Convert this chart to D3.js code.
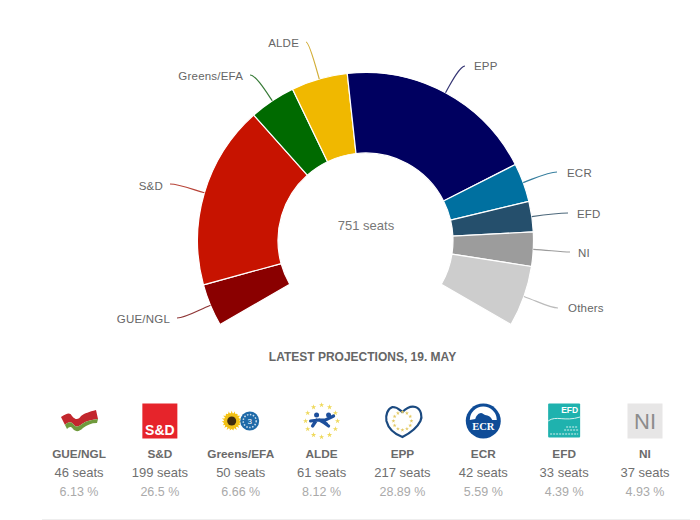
<!DOCTYPE html>
<html>
<head>
<meta charset="utf-8">
<script src="https://cdn.jsdelivr.net/npm/d3@7"></script>
<style>
    html, body { margin: 0; padding: 0; background: #fff; overflow: hidden; }
    svg { display: block; }
    text { font-family: "Liberation Sans", Arial, sans-serif; }
</style>
</head>
<body>
<svg id="chart" width="700" height="520"></svg>
<script>
// data
const parties = ["GUE/NGL", "S&D", "Greens/EFA", "ALDE", "EPP", "ECR", "EFD", "NI", "Others"];
const seats = [46, 199, 50, 61, 217, 42, 33, 37, 66];
const shares = ["6.13 %", "26.5 %", "6.66 %", "8.12 %", "28.89 %", "5.59 %", "4.39 %", "4.93 %"];
const colors = ["#8a0000", "#c71300", "#006a00", "#f0b800", "#000060", "#0070a0", "#254f6c", "#9c9c9c", "#cdcdcd"];
const totalLabel = "751 seats";
const title = "LATEST PROJECTIONS, 19. MAY";

// where the slice labels sit: text anchor, text x, baseline y, connector end
const labelPos = [
    {anchor: "end", x: 170, y: 323, lx: 177, ly: 318},
    {anchor: "end", x: 163, y: 190, lx: 170, ly: 184},
    {anchor: "end", x: 243, y: 80, lx: 250, ly: 75},
    {anchor: "end", x: 299, y: 47, lx: 306, ly: 42},
    {anchor: "start", x: 474, y: 70, lx: 465, ly: 66},
    {anchor: "start", x: 567, y: 177, lx: 557, ly: 172},
    {anchor: "start", x: 577, y: 218, lx: 568, ly: 213},
    {anchor: "start", x: 578, y: 257, lx: 570, ly: 252},
    {anchor: "start", x: 568, y: 312, lx: 558, ly: 308}
];

const svg = d3.select("#chart");

const cx = 365.5, cy = 240.5, outer = 168, inner = 87.5;
const toRad = Math.PI / 180;

const pie = d3.pie().sort(null).startAngle(-120 * toRad).endAngle(120 * toRad);
const arc = d3.arc().innerRadius(inner).outerRadius(outer);
const slices = pie(seats);

const g = svg.append("g").attr("transform", `translate(${cx},${cy})`);

g.selectAll("path.slice")
    .data(slices)
    .enter()
    .append("path")
    .attr("class", "slice")
    .attr("d", arc)
    .attr("fill", (d, i) => colors[i])
    .attr("stroke", "#fff")
    .attr("stroke-width", 1.2)
    .attr("stroke-linejoin", "round");

// connector: leaves the arc radially, bends over to the label
const connector = (d, i) => {
    const mid = (d.startAngle + d.endAngle) / 2;
    const x0 = cx + Math.sin(mid) * outer, y0 = cy - Math.cos(mid) * outer;
    const lp = labelPos[i];
    const p = d3.path();
    p.moveTo(x0, y0);
    p.bezierCurveTo(
        cx + Math.sin(mid) * (outer + 14), cy - Math.cos(mid) * (outer + 14),
        lp.lx + (x0 - lp.lx) * 0.25, lp.ly,
        lp.lx, lp.ly
    );
    return p.toString();
};

svg.selectAll("path.link")
    .data(slices)
    .enter()
    .append("path")
    .attr("class", "link")
    .attr("d", connector)
    .attr("fill", "none")
    .attr("stroke", (d, i) => d3.interpolateRgb(colors[i], "#999")(0.35))
    .attr("stroke-width", 1.2);

svg.selectAll("text.label")
    .data(parties)
    .enter()
    .append("text")
    .attr("class", "label")
    .attr("x", (d, i) => labelPos[i].x)
    .attr("y", (d, i) => labelPos[i].y)
    .attr("text-anchor", (d, i) => labelPos[i].anchor)
    .attr("fill", "#666")
    .attr("font-size", 11.5)
    .attr("letter-spacing", 0.2)
    .text(d => d);

svg.append("text")
    .attr("x", 366).attr("y", 230)
    .attr("text-anchor", "middle")
    .attr("fill", "#777")
    .attr("font-size", 13)
    .text(totalLabel);

svg.append("text")
    .attr("x", 362.5).attr("y", 361)
    .attr("text-anchor", "middle")
    .attr("fill", "#666")
    .attr("font-size", 12)
    .attr("font-weight", "bold")
    .text(title);

// legend row
const legendX = d3.scalePoint().domain(parties.slice(0, 8)).range([79, 645]);

const cols = svg.selectAll("g.col")
    .data(parties.slice(0, 8))
    .enter()
    .append("g")
    .attr("class", "col")
    .attr("transform", d => `translate(${legendX(d)},0)`);

cols.append("text")
    .attr("y", 458).attr("text-anchor", "middle")
    .attr("fill", "#6a6a6a").attr("font-size", 11.8).attr("font-weight", "bold")
    .text(d => d);
cols.append("text")
    .attr("y", 477).attr("text-anchor", "middle")
    .attr("fill", "#707070").attr("font-size", 13)
    .text((d, i) => seats[i] + " seats");
cols.append("text")
    .attr("y", 496).attr("text-anchor", "middle")
    .attr("fill", "#aaa").attr("font-size", 12.5)
    .text((d, i) => shares[i]);

svg.append("line")
    .attr("x1", 42).attr("x2", 690).attr("y1", 519.5).attr("y2", 519.5)
    .attr("stroke", "#eee");

// small party logos, each drawn around the column centre, y is the logo centre
const logoY = 421;
const logo = parties.slice(0, 8).map(d => svg.append("g").attr("transform", `translate(${legendX(d)},${logoY})`));

// ring of little stars, used by a few logos
const starRing = (sel, r, n, size, color) => {
    const star = d3.symbol().type(d3.symbolStar).size(size);
    sel.selectAll("path.star")
        .data(d3.range(n))
        .enter()
        .append("path")
        .attr("class", "star")
        .attr("d", star)
        .attr("fill", color)
        .attr("transform", i => `translate(${r * Math.sin(i / n * 2 * Math.PI)},${-r * Math.cos(i / n * 2 * Math.PI)})`);
};

// GUE/NGL
logo[0].append("path").attr("d", "M-18,-4 C-12,-8 -9,-9 -7,-5 C-3,0 0,-2 2,-5 C6,-8 10,-9 17,-11 L19,-2 C12,-1 7,0 3,3 C0,5 -2,7 -5,4 C-8,0 -11,1 -14,4 Z").attr("fill", "#c2272d");
logo[0].append("path").attr("d", "M-14,4 C-11,1 -8,0 -5,4 C-2,7 0,5 3,3 C7,0 12,-1 19,-2 L18,2 C12,2 8,4 4,7 C0,11 -3,11 -6,8 C-8,5 -10,6 -12,8 Z").attr("fill", "#6f9a3c");

// S&D
logo[1].append("rect").attr("x", -17.5).attr("y", -17.5).attr("width", 35).attr("height", 35).attr("fill", "#e6242b");
logo[1].append("text").attr("y", 14).attr("text-anchor", "middle").attr("fill", "#fff")
    .attr("font-size", 14).attr("font-weight", "bold").text("S&D");

// Greens/EFA
const sun = logo[2].append("g").attr("transform", "translate(-9,0)");
starRing(sun, 6.5, 14, 16, "#f5c211");
sun.append("circle").attr("r", 7).attr("fill", "#f0c018");
sun.append("circle").attr("r", 4.5).attr("fill", "#3f2d10");
const efa = logo[2].append("g").attr("transform", "translate(9,0)");
efa.append("circle").attr("r", 9.5).attr("fill", "#1f6aa8");
efa.append("circle").attr("r", 6.5).attr("fill", "none").attr("stroke", "#cfe0ee").attr("stroke-width", 1.5).attr("stroke-dasharray", "1.5 1.5");
efa.append("text").attr("y", 3).attr("text-anchor", "middle").attr("fill", "#fff").attr("font-size", 8).text("3");

// ALDE
starRing(logo[3], 16, 12, 9, "#efd95c");
logo[3].append("path").attr("d", "M-11,0 L-2,-1 L5,3 M-2,-1 L4,-1 L12,-5 M-5,-1 L-9,5 M0,0 L7,5")
    .attr("fill", "none").attr("stroke", "#1d4f9c").attr("stroke-width", 3.2).attr("stroke-linecap", "round");
logo[3].append("circle").attr("cx", -5).attr("cy", -6).attr("r", 2.5).attr("fill", "#1d4f9c");
logo[3].append("circle").attr("cx", 7).attr("cy", -6).attr("r", 2.5).attr("fill", "#1d4f9c");

// EPP
logo[4].append("path").attr("d", "M-10,-14 C-4,-14 -2,-10 0,-9 C4,-13 9,-15 13,-14 C19,-12 20,-4 18,0 C14,8 6,13 0,16 C-8,13 -14,8 -16,0 C-17,-6 -15,-12 -10,-14 Z")
    .attr("fill", "none").attr("stroke", "#1b4a80").attr("stroke-width", 2.2);
const eppStars = logo[4].append("g").attr("transform", "translate(0,0)");
starRing(eppStars, 9, 12, 5, "#e3c964");

// ECR
logo[5].append("circle").attr("r", 17.5).attr("fill", "#0f4c97");
logo[5].append("path").attr("d", "M-13.5,-1 A13.5,13.5 0 0 1 13.5,-1 L9,-1 C6,-7 2,-5 0,-7 C-3,-10 -7,-6 -8,-2 Z").attr("fill", "#fff");
logo[5].append("text").attr("y", 9).attr("text-anchor", "middle").attr("fill", "#fff")
    .attr("font-size", 10.5).attr("font-weight", "bold").style("font-family", "Liberation Serif").text("ECR");

// EFD
logo[6].append("rect").attr("x", -16).attr("y", -17.5).attr("width", 32).attr("height", 34).attr("rx", 1).attr("fill", "#1fb2ae");
logo[6].append("path").attr("d", "M-16,0 C-8,-6 0,1 16,-4").attr("fill", "none").attr("stroke", "#d5f0ee").attr("stroke-width", 1);
logo[6].append("path").attr("d", "M2,6 H14 M0,9 H14 M-14,13 H14").attr("stroke", "#d5f0ee").attr("stroke-width", 1.2).attr("stroke-dasharray", "2 1");
logo[6].append("text").attr("x", 14).attr("y", -8).attr("text-anchor", "end").attr("fill", "#fff")
    .attr("font-size", 8.5).attr("font-weight", "bold").text("EFD");

// NI
logo[7].append("rect").attr("x", -17.5).attr("y", -17.5).attr("width", 35).attr("height", 35).attr("fill", "#e7e6e6");
logo[7].append("text").attr("y", 8).attr("text-anchor", "middle").attr("fill", "#8c8c8c")
    .attr("font-size", 22).text("NI");
</script>
</body>
</html>
